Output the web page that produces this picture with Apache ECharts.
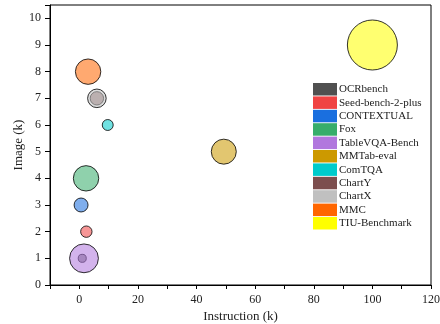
<!DOCTYPE html>
<html>
<head>
<meta charset="utf-8">
<script src="https://cdn.jsdelivr.net/npm/echarts@6/dist/echarts.min.js"></script>
<style>
html,body{margin:0;padding:0;background:#fff;}
#chart{width:440px;height:324px;}
</style>
</head>
<body>
<div id="chart"></div>
<script>
// Dataset names (legend order)
const names = ['OCRbench','Seed-bench-2-plus','CONTEXTUAL','Fox','TableVQA-Bench','MMTab-eval','ComTQA','ChartY','ChartX','MMC','TIU-Benchmark'];
// Instruction count (k)
const instruction = [1.0, 2.4, 0.6, 2.3, 1.6, 49.3, 9.7, 6.0, 6.0, 3.0, 100];
// Image count (k)
const image = [1, 2, 3, 4, 1, 5, 6, 7, 7, 8, 9];
// Bubble magnitude (relative dataset scale)
const magnitude = [2.6, 5.2, 7.8, 25.8, 33.2, 25, 4.8, 7.2, 13.8, 25.8, 100];
// Series colours
const colors = ['#505050','#F04343','#1A6FDF','#37AD6B','#B177DE','#CC9900','#00CBCC','#7D4E4E','#C0C0C0','#FF6600','#FFFF00'];
// x tick labels shown
const xLabelStep = 20;

function rgba(hex, a){
  const r=parseInt(hex.slice(1,3),16),g=parseInt(hex.slice(3,5),16),b=parseInt(hex.slice(5,7),16);
  return 'rgba('+r+','+g+','+b+','+a+')';
}

const font = 'Liberation Serif, Times New Roman, serif';
const chart = echarts.init(document.getElementById('chart'), null, {renderer:'canvas'});

const series = names.map((n,i)=>({
  name:n,
  type:'scatter',
  data:[[instruction[i], image[i], magnitude[i]]],
  symbolSize: v => Math.sqrt(v[2])*5,
  itemStyle:{color:rgba(colors[i],0.7), borderColor:'#000', borderWidth:1},
  emphasis:{disabled:true},
  animation:false
}));

chart.setOption({
  animation:false,
  grid:{left:50,right:9,top:5,bottom:39,show:true,borderColor:'#000',borderWidth:1,backgroundColor:'transparent',
        containLabel:false, outerBoundsMode:'none'},
  legend:{
    orient:'vertical', left:313, top:83, padding:0,
    itemWidth:24, itemHeight:12.5, itemGap:0.9,
    icon:'rect',
    data:names.map((n,i)=>({name:n, itemStyle:{color:colors[i], borderWidth:0, opacity:1}})),
    textStyle:{fontFamily:font, fontSize:11, color:'#222', padding:[0,0,0,-3], lineHeight:12},
    selectedMode:false
  },
  xAxis:{
    type:'value', min:-10, max:120, interval:10,
    name:'Instruction (k)', nameLocation:'middle', nameGap:25, nameMoveOverlap:false,
    nameTextStyle:{fontFamily:font, fontSize:13, color:'#222'},
    axisLine:{show:true, onZero:false, lineStyle:{color:'#000',width:1}},
    axisTick:{show:true, length:4, lineStyle:{color:'#000'}},
    axisLabel:{fontFamily:font, fontSize:12, color:'#222', margin:9,
      formatter: v => (v % xLabelStep === 0 ? String(v) : '')},
    splitLine:{show:false}
  },
  yAxis:{
    type:'value', min:0, max:10.5, interval:1,
    name:'Image (k)', nameLocation:'middle', nameGap:25, nameMoveOverlap:false,
    nameTextStyle:{fontFamily:font, fontSize:13, color:'#222'},
    axisLine:{show:true, onZero:false, lineStyle:{color:'#000',width:1}},
    axisTick:{show:true, length:5, lineStyle:{color:'#000'}},
    axisLabel:{fontFamily:font, fontSize:12, color:'#222', margin:9,
      formatter: v => (Number.isInteger(v) ? String(v) : '')},
    splitLine:{show:false}
  },
  series: series
});
</script>
</body>
</html>
